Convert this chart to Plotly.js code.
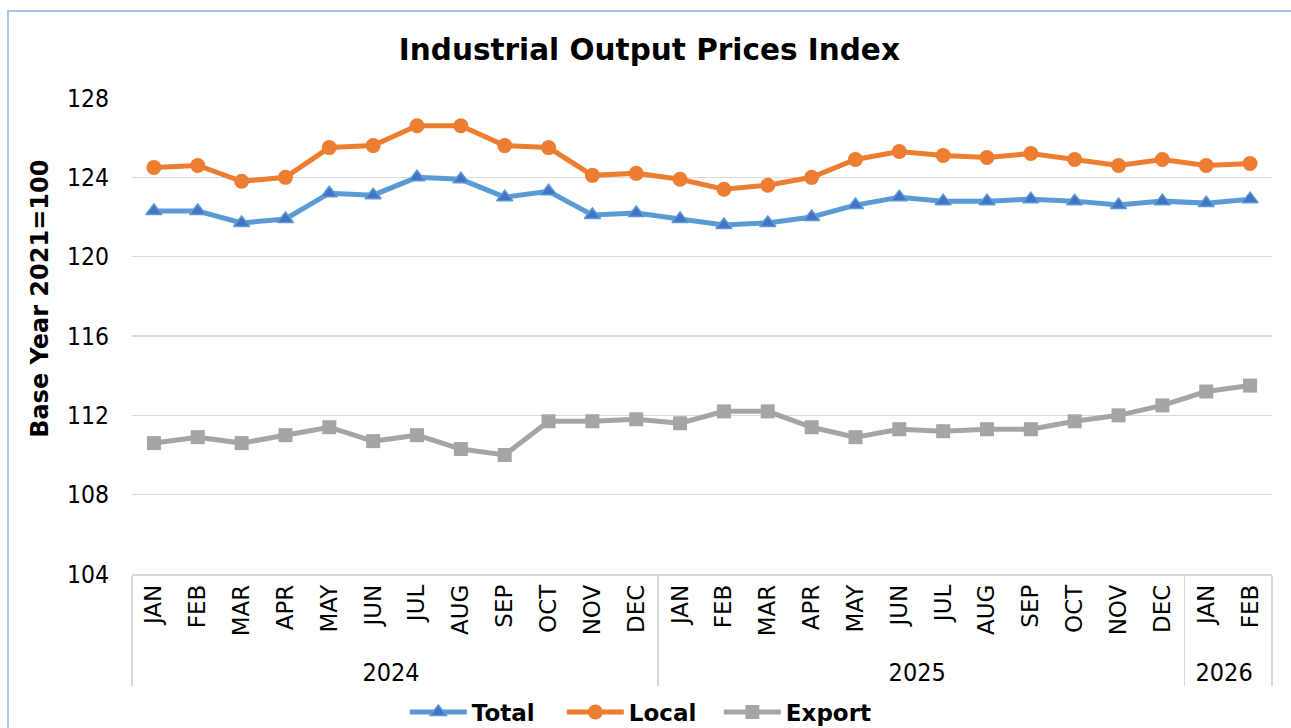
<!DOCTYPE html>
<html>
<head>
<meta charset="utf-8">
<script src="https://cdn.plot.ly/plotly-3.0.1.min.js"></script>
<style>
  html, body { margin: 0; padding: 0; background: #ffffff; }
  #wrap { position: relative; width: 1291px; height: 728px; overflow: hidden; }
  #chart { width: 1291px; height: 728px; }
  #frame { position: absolute; left: 7px; top: 10px; width: 1300px; height: 740px;
           border-left: 2px solid #A9C4EB; border-top: 2px solid #A9C4EB; pointer-events: none; }
</style>
</head>
<body>
<div id="wrap">
  <div id="chart"></div>
  <div id="frame"></div>
</div>
<script>
const years = ["2024","2024","2024","2024","2024","2024","2024","2024","2024","2024","2024","2024",
               "2025","2025","2025","2025","2025","2025","2025","2025","2025","2025","2025","2025",
               "2026","2026"];
const months = ["JAN","FEB","MAR","APR","MAY","JUN","JUL","AUG","SEP","OCT","NOV","DEC",
                "JAN","FEB","MAR","APR","MAY","JUN","JUL","AUG","SEP","OCT","NOV","DEC",
                "JAN","FEB"];
const totalValues  = [122.3,122.3,121.7,121.9,123.2,123.1,124.0,123.9,123.0,123.3,122.1,122.2,
                      121.9,121.6,121.7,122.0,122.6,123.0,122.8,122.8,122.9,122.8,122.6,122.8,
                      122.7,122.9];
const localValues  = [124.5,124.6,123.8,124.0,125.5,125.6,126.6,126.6,125.6,125.5,124.1,124.2,
                      123.9,123.4,123.6,124.0,124.9,125.3,125.1,125.0,125.2,124.9,124.6,124.9,
                      124.6,124.7];
const exportValues = [110.6,110.9,110.6,111.0,111.4,110.7,111.0,110.3,110.0,111.7,111.7,111.8,
                      111.6,112.2,112.2,111.4,110.9,111.3,111.2,111.3,111.3,111.7,112.0,112.5,
                      113.2,113.5];
const yTicks = [104,108,112,116,120,124,128];

const x = [years, months];

const traces = [
  { name: "Total", x: x, y: totalValues, type: "scatter", mode: "lines+markers",
    line: { color: "#5B9BD5", width: 5 },
    marker: { symbol: "triangle-up", size: 14, color: "#4472C4", line: { color: "#5B9BD5", width: 1.5 } } },
  { name: "Local", x: x, y: localValues, type: "scatter", mode: "lines+markers",
    line: { color: "#ED7D31", width: 5 },
    marker: { symbol: "circle", size: 15, color: "#ED7D31" } },
  { name: "Export", x: x, y: exportValues, type: "scatter", mode: "lines+markers",
    line: { color: "#A5A5A5", width: 5 },
    marker: { symbol: "square", size: 14, color: "#A5A5A5" } }
];

const layout = {
  width: 1291, height: 728,
  margin: { l: 132, r: 19, t: 98, b: 154 },
  paper_bgcolor: "#ffffff", plot_bgcolor: "#ffffff",
  title: { text: "<b>Industrial Output Prices Index</b>", x: 0.503, xref: "container", y: 0.932, yanchor: "middle",
           font: { family: "DejaVu Sans, Verdana, sans-serif", size: 29.5, color: "#000000" } },
  xaxis: {
    type: "multicategory",
    range: [-0.5, 25.5],
    tickangle: -90,
    tickfont: { family: "DejaVu Sans, Verdana, sans-serif", size: 23, color: "#000000" },
    showline: true, linecolor: "#D9D9D9", linewidth: 1.5,
    showgrid: false, ticks: "",
    showdividers: true, dividercolor: "#D9D9D9", dividerwidth: 1.5
  },
  yaxis: {
    range: [104, 128],
    tickvals: yTicks,
    ticktext: yTicks.map(String),
    tickfont: { family: "DejaVu Sans Condensed, DejaVu Sans, sans-serif", size: 24.5, color: "#000000" },
    ticklabelstandoff: 22,
    showgrid: true, gridcolor: "#D9D9D9", gridwidth: 1.5,
    zeroline: false, showline: false, ticks: ""
  },
  annotations: [
    { text: "<b>Base Year 2021=100</b>", textangle: -90, showarrow: false,
      xref: "paper", yref: "paper", x: -0.0807, y: 0.578, xanchor: "center", yanchor: "middle",
      font: { family: "DejaVu Sans, Verdana, sans-serif", size: 24, color: "#000000" } }
  ],
  showlegend: true,
  legend: {
    orientation: "h", xref: "container", x: 0.496, xanchor: "center",
    yref: "container", y: 0.022, yanchor: "middle",
    font: { family: "DejaVu Sans, sans-serif", size: 23, color: "#000000", weight: "bold" },
    itemwidth: 57, tracegroupgap: 0,
    entrywidth: 85, entrywidthmode: "pixels"
  }
};

Plotly.newPlot("chart", traces, layout, { displayModeBar: false, staticPlot: true }).then(function () {
  document.querySelectorAll("g.xtick2 text").forEach(function (t) {
    t.style.fontFamily = "'DejaVu Sans Condensed', 'DejaVu Sans', sans-serif";
    t.style.fontSize = "25px";
  });
});
</script>
</body>
</html>
